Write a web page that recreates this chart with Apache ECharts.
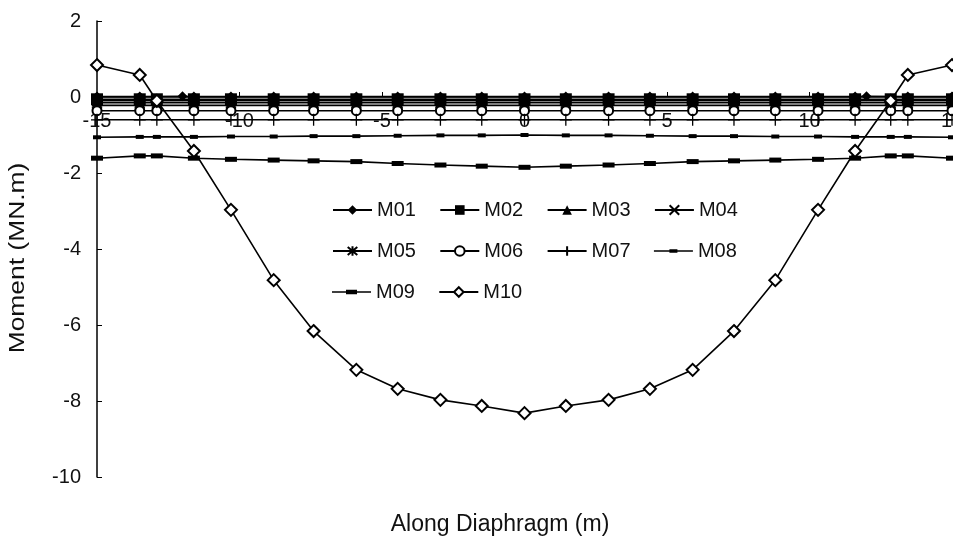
<!DOCTYPE html>
<html>
<head>
<meta charset="utf-8">
<script src="https://cdn.jsdelivr.net/npm/echarts@6/dist/echarts.min.js"></script>
<style>
html,body{margin:0;padding:0;background:#fff;}
#chart{width:953px;height:545px;}
</style>
</head>
<body>
<div id="chart"></div>
<script>
// Positions along the diaphragm (m)
var xCommon = [-15, -13.5, -12.9, -11.6, -10.3, -8.8, -7.4, -5.9, -4.45, -2.95, -1.5, 0, 1.45, 2.95, 4.4, 5.9, 7.35, 8.8, 10.3, 11.6, 12.85, 13.45, 15];
var xM01 = [-15, -13.5, -12, -11.6, -10.3, -8.8, -7.4, -5.9, -4.45, -2.95, -1.5, 0, 1.45, 2.95, 4.4, 5.9, 7.35, 8.8, 10.3, 11.6, 12, 13.45, 15];

var seriesNames = ['M01','M02','M03','M04','M05','M06','M07','M08','M09','M10'];

var M01 = [0.01, 0.01, 0.02, 0.01, 0.01, 0.01, 0.01, 0.01, 0.01, 0.01, 0.01, 0.01, 0.01, 0.01, 0.01, 0.01, 0.01, 0.01, 0.01, 0.01, 0.02, 0.01, 0.01];
var M02 = [-0.06, -0.06, -0.06, -0.06, -0.06, -0.06, -0.06, -0.06, -0.06, -0.06, -0.06, -0.06, -0.06, -0.06, -0.06, -0.06, -0.06, -0.06, -0.06, -0.06, -0.06, -0.06, -0.06];
var M03 = [-0.1, -0.1, -0.1, -0.1, -0.1, -0.1, -0.1, -0.1, -0.1, -0.1, -0.1, -0.1, -0.1, -0.1, -0.1, -0.1, -0.1, -0.1, -0.1, -0.1, -0.1, -0.1, -0.1];
var M04 = [-0.15, -0.15, -0.15, -0.15, -0.15, -0.15, -0.15, -0.15, -0.15, -0.15, -0.15, -0.15, -0.15, -0.15, -0.15, -0.15, -0.15, -0.15, -0.15, -0.15, -0.15, -0.15, -0.15];
var M05 = [-0.22, -0.22, -0.22, -0.22, -0.22, -0.22, -0.22, -0.22, -0.22, -0.22, -0.22, -0.22, -0.22, -0.22, -0.22, -0.22, -0.22, -0.22, -0.22, -0.22, -0.22, -0.22, -0.22];
var M06 = [-0.36, -0.36, -0.36, -0.36, -0.36, -0.36, -0.36, -0.36, -0.36, -0.36, -0.36, -0.36, -0.36, -0.36, -0.36, -0.36, -0.36, -0.36, -0.36, -0.36, -0.36, -0.36, -0.36];
var M07 = [-0.6, -0.6, -0.6, -0.6, -0.6, -0.6, -0.6, -0.6, -0.6, -0.6, -0.6, -0.6, -0.6, -0.6, -0.6, -0.6, -0.6, -0.6, -0.6, -0.6, -0.6, -0.6, -0.6];
var M08 = [-1.06, -1.05, -1.05, -1.05, -1.04, -1.04, -1.03, -1.03, -1.02, -1.01, -1.01, -1.0, -1.01, -1.01, -1.02, -1.03, -1.03, -1.04, -1.04, -1.05, -1.05, -1.05, -1.06];
var M09 = [-1.61, -1.55, -1.55, -1.61, -1.64, -1.66, -1.68, -1.70, -1.75, -1.79, -1.82, -1.85, -1.82, -1.79, -1.75, -1.70, -1.68, -1.66, -1.64, -1.61, -1.55, -1.55, -1.61];
var M10 = [0.84, 0.58, -0.1, -1.42, -2.97, -4.82, -6.16, -7.18, -7.68, -7.97, -8.13, -8.32, -8.13, -7.97, -7.68, -7.18, -6.16, -4.82, -2.97, -1.42, -0.1, 0.58, 0.84];

var xTicks = { min: -15, max: 15, interval: 5 };
var yTicks = { min: -10, max: 2, interval: 2 };

var xTitle = 'Along Diaphragm (m)';
var yTitle = 'Moment (MN.m)';

function pairs(xs, ys) { return xs.map(function (x, i) { return [x, ys[i]]; }); }

var FONT = '"Liberation Sans", Arial, sans-serif';
var values = [M01, M02, M03, M04, M05, M06, M07, M08, M09, M10];
var xsFor = [xM01, xCommon, xCommon, xCommon, xCommon, xCommon, xCommon, xCommon, xCommon, xCommon];

var symbols = [
  { symbol: 'diamond', size: 10, bw: 0 },
  { symbol: 'rect', size: 12, bw: 0 },
  { symbol: 'triangle', size: 11, bw: 0 },
  { symbol: 'path://M0,0L10,10M10,0L0,10', size: 10, bw: 1.3 },
  { symbol: 'path://M0,0L10,10M10,0L0,10M5,-1L5,11', size: 10, bw: 1.3 },
  { symbol: 'emptyCircle', size: 9, bw: 1.3 },
  { symbol: 'path://M5,0L5,10M0,5L10,5', size: 12, bw: 1.3 },
  { symbol: 'rect', size: [8, 4], bw: 0 },
  { symbol: 'rect', size: [12, 5], bw: 0 },
  { symbol: 'emptyDiamond', size: 12, bw: 1.3 }
];

// legend icons for the dash markers (line + dash in a 39x12 box)
var dashIcons = {
  M08: 'path://M0,0L0.01,0L0.01,0.01Z M39,12L38.99,12L38.99,11.99Z M0,5.2L39,5.2L39,6.8L0,6.8Z M15.5,4.3L23.5,4.3L23.5,7.7L15.5,7.7Z',
  M09: 'path://M0,0L0.01,0L0.01,0.01Z M39,12L38.99,12L38.99,11.99Z M0,5.2L39,5.2L39,6.8L0,6.8Z M14,3.8L25,3.8L25,8.2L14,8.2Z'
};

var series = seriesNames.map(function (name, i) {
  var s = symbols[i];
  return {
    name: name,
    type: 'line',
    data: pairs(xsFor[i], values[i]),
    symbol: s.symbol,
    symbolSize: s.size,
    showAllSymbol: true,
    clip: false,
    lineStyle: { color: '#000', width: 1.6 },
    itemStyle: { color: '#000', borderColor: '#000', borderWidth: s.bw },
    emphasis: { disabled: true },
    animation: false,
    z: 2 + i * 0.01
  };
});

function legendRow(names, top) {
  return {
    data: names.map(function (n) {
      return dashIcons[n] ? { name: n, icon: dashIcons[n] } : { name: n };
    }),
    left: 327,
    top: top,
    orient: 'horizontal',
    itemWidth: 39,
    itemHeight: 12,
    itemGap: 23.4,
    textStyle: { fontFamily: FONT, fontSize: 20, color: '#111' },
    selectedMode: false
  };
}

var grid = { left: 97, right: 1, top: 21, bottom: 68 };
var plotH = 545 - grid.top - grid.bottom;
var zeroFromBottom = plotH * (0 - yTicks.min) / (yTicks.max - yTicks.min);

var chart = echarts.init(document.getElementById('chart'), null, { renderer: 'canvas' });
chart.setOption({
  backgroundColor: '#fff',
  animation: false,
  grid: { left: grid.left, right: grid.right, top: grid.top, bottom: grid.bottom, containLabel: false, outerBoundsMode: 'none' },
  legend: [
    legendRow(seriesNames.slice(0, 4), 195),
    legendRow(seriesNames.slice(4, 8), 236),
    legendRow(seriesNames.slice(8, 10), 277)
  ],
  xAxis: {
    type: 'value',
    position: 'bottom',
    offset: -zeroFromBottom,
    min: xTicks.min, max: xTicks.max, interval: xTicks.interval,
    axisLine: { onZero: false, lineStyle: { color: '#000', width: 1.5 } },
    axisTick: { inside: true, length: 5, lineStyle: { color: '#000' } },
    axisLabel: { color: '#111', fontFamily: FONT, fontSize: 20, margin: 14, hideOverlap: false },
    splitLine: { show: false }
  },
  yAxis: {
    type: 'value',
    min: yTicks.min, max: yTicks.max, interval: yTicks.interval,
    axisLine: { show: true, onZero: false, lineStyle: { color: '#000', width: 1.5 } },
    axisTick: { show: true, inside: true, length: 5, lineStyle: { color: '#000' } },
    axisLabel: { color: '#111', fontFamily: FONT, fontSize: 20, margin: 16 },
    splitLine: { show: false }
  },
  graphic: [
    { type: 'text', x: 500, y: 525,
      style: { text: xTitle, fontFamily: FONT, fontSize: 23, fill: '#111', align: 'center', verticalAlign: 'middle' } },
    { type: 'text', x: 18, y: 258, rotation: Math.PI / 2, scaleX: 1.2,
      style: { text: yTitle, fontFamily: FONT, fontSize: 22, fill: '#111', align: 'center', verticalAlign: 'middle' } }
  ],
  series: series
});
</script>
</body>
</html>
